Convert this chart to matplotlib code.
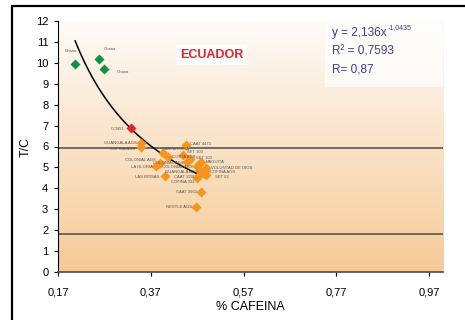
import numpy as np
import matplotlib
matplotlib.use('Agg')
import matplotlib.pyplot as plt
from matplotlib.colors import LinearSegmentedColormap
from matplotlib.patches import Rectangle

plt.rcParams['font.family'] = ['Liberation Sans', 'DejaVu Sans']

# Ghana samples (green)
ghana_names = ['Ghana', 'Ghana', 'Ghana']
ghana_x = [0.207, 0.259, 0.269]
ghana_y = [9.94, 10.18, 9.71]

# CCN51 (red)
ccn_names = ['CCN51']
ccn_x = [0.328]
ccn_y = [6.90]

# Ecuador samples (orange)
ecu_names = ['GUANGALA AGS', 'COFINA AGS', 'CAAT 4473', 'SANTA LUCIA', 'COSTA AGS',
             'SET 103', 'SET 100', 'MAGUITA', 'COLONIAL AGS', 'COLONIAL AGS',
             'LA GLORIA', 'LAS BRISAS', 'COLONIAL AGS', 'VOLUNTAD DE DIOS',
             'GUANGALA AGS', 'COFINA AGS', 'CAAT 1118', 'SET 62', 'COFINA 333',
             'CAAT 2660', 'NESTLE AGS']
ecu_x = [0.350, 0.350, 0.447, 0.396, 0.407,
         0.439, 0.455, 0.479, 0.448, 0.389,
         0.381, 0.400, 0.470, 0.490,
         0.478, 0.486, 0.475, 0.488, 0.470,
         0.479, 0.468]
ecu_y = [6.19, 6.00, 6.06, 5.69, 5.50,
         5.61, 5.40, 5.26, 5.26, 5.22,
         5.06, 4.58, 5.05, 4.98,
         4.85, 4.82, 4.62, 4.64, 4.50,
         3.84, 3.12]

# power trendline
fit_a = 2.136
fit_b = -1.0435
ref_lines = [5.95, 1.8]

x_ticks = [0.17, 0.37, 0.57, 0.77, 0.97]
x_ticklabels = ['0,17', '0,37', '0,57', '0,77', '0,97']

# label offsets (pixels) and alignment for the orange points
ecu_offsets = [(-5, 0), (-6, -3), (4, 1), (-1, 4), (4, 0),
               (4, 3), (6, 1), (4, 0), (-3, -1), (-4, 3),
               (-3, -1), (-5, -1), (-4, -1), (5, 0),
               (-3, -1), (5, -1), (-5, -2), (9, -2), (-3, -4),
               (-4, 0), (-4, 0)]
ecu_ha = ['right', 'right', 'left', 'left', 'left',
          'left', 'left', 'left', 'right', 'right',
          'right', 'right', 'right', 'left',
          'right', 'left', 'right', 'left', 'right',
          'right', 'right']

fig = plt.figure(figsize=(4.65, 3.2), dpi=100)
ax = fig.add_axes([58 / 465, 1 - 272 / 320, 385 / 465, 251 / 320])

# gradient background
cmap = LinearSegmentedColormap.from_list('bg', ['#F6CA96', '#FEFBF8'])
grad = np.linspace(0, 1, 256).reshape(-1, 1)
ax.imshow(grad, cmap=cmap, origin='lower', extent=[0.17, 1.0, 0, 12],
          aspect='auto', zorder=0)

for yv in ref_lines:
    ax.axhline(yv, color='#4a4a4a', lw=1.1, zorder=1)

# trendline over the data range
all_x = ghana_x + ccn_x + ecu_x
xs = np.linspace(min(all_x), max(all_x), 200)
ax.plot(xs, fit_a * xs ** fit_b, color='black', lw=1.1, zorder=2)

ax.plot(ecu_x, ecu_y, 'D', color='#F7941E', ms=4.6, mec='none', zorder=3)
ax.plot(ghana_x, ghana_y, 'D', color='#0E9247', ms=4.8, mec='none', zorder=3)
ax.plot(ccn_x, ccn_y, 'D', color='#E5202B', ms=4.6, mec='none', zorder=3)

lbl = dict(fontsize=3, color='#555555', va='center', textcoords='offset pixels', zorder=4)
ax.annotate(ghana_names[0], (ghana_x[0], ghana_y[0]), xytext=(-4, 13), ha='center', **lbl)
ax.annotate(ghana_names[1], (ghana_x[1], ghana_y[1]), xytext=(4, 10), ha='left', **lbl)
ax.annotate(ghana_names[2], (ghana_x[2], ghana_y[2]), xytext=(13, -3), ha='left', **lbl)
ax.annotate(ccn_names[0], (ccn_x[0], ccn_y[0]), xytext=(-7, -1), ha='right', **lbl)
for name, xv, yv, off, ha in zip(ecu_names, ecu_x, ecu_y, ecu_offsets, ecu_ha):
    ax.annotate(name, (xv, yv), xytext=off, ha=ha, **lbl)

ax.text(0.501, 10.38, 'ECUADOR', color='#E8202A', fontsize=9, fontweight='bold',
        ha='center', va='center', zorder=5,
        bbox=dict(facecolor='white', edgecolor='none', pad=3))

# equation box
ax.add_patch(Rectangle((0.745, 8.85), 0.255, 3.9, facecolor='white', edgecolor='none',
                       alpha=0.7, zorder=1, clip_on=False))
eq_color = '#3B3C97'
ax.text(0.761, 11.43, 'y = 2,136x', color=eq_color, fontsize=8.5, va='center', zorder=5)
ax.text(0.880, 11.68, '-1,0435', color=eq_color, fontsize=5, va='center', zorder=5)
ax.text(0.761, 10.53, 'R² = 0,7593', color=eq_color, fontsize=8.5, va='center', zorder=5)
ax.text(0.761, 9.67, 'R= 0,87', color=eq_color, fontsize=8.5, va='center', zorder=5)

ax.set_xlim(0.17, 1.0)
ax.set_ylim(0, 12)
ax.set_xticks(x_ticks)
ax.set_xticklabels(x_ticklabels)
ax.set_yticks(range(0, 13))
ax.tick_params(labelsize=8, colors='black', length=3, width=0.8, pad=4)
ax.tick_params(axis='x', pad=8)
for side in ['top', 'right']:
    ax.spines[side].set_visible(False)
ax.spines['left'].set_color('black')
ax.spines['bottom'].set_color('#4a4a4a')
ax.spines['bottom'].set_linewidth(1.2)
ax.set_xlabel('% CAFEINA', fontsize=9, labelpad=3)
ax.set_ylabel('T/C', fontsize=9, labelpad=3)

# outer chart frame (clipped on right and bottom)
fig.patches.append(Rectangle((12 / 465, -0.05), 1.1, 1 - 6 / 320 + 0.05, fill=False,
                             edgecolor='black', lw=1.6, transform=fig.transFigure))

fig.savefig('out.png', dpi=100)
